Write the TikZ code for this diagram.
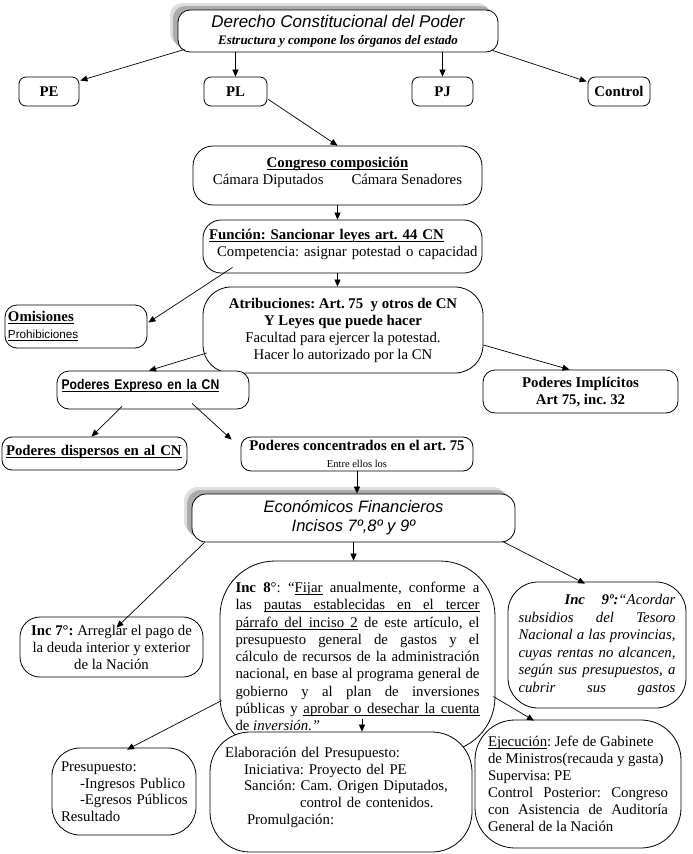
\documentclass[tikz,border=0pt]{standalone}
\usepackage{fontspec}
\setmainfont{Liberation Serif}
\newfontfamily\arialfont{Liberation Sans}
\newfontfamily\estrecha[FakeStretch=0.87]{Liberation Sans}
\usetikzlibrary{arrows.meta,shadows}

\frenchspacing
\newcommand{\texto}{\fontsize{14.8}{17}\selectfont}
\newsavebox{\cajasub}
\newcommand{\subr}[1]{\leavevmode\sbox{\cajasub}{#1}\rlap{\vrule height -1.5pt depth 2.3pt width \wd\cajasub}\usebox{\cajasub}}
\newcommand{\esp}{\leaders\hrule height -1.5pt depth 2.3pt\hskip\fontdimen2\font plus \fontdimen3\font minus \fontdimen4\font}

\begin{document}
\begin{tikzpicture}[x=1pt, y=-1pt,
  caja/.style={draw, line width=0.8pt, fill=white, inner sep=0pt, font=\texto,
    execute at begin node={\tolerance=10000\hbadness=10000\hyphenpenalty=10000}},
  sombra/.style={general shadow={fill=gray!25, shadow xshift=-8pt, shadow yshift=7pt},
                 general shadow={fill=gray!65, shadow xshift=-5pt, shadow yshift=4pt}},
  parrafo/.style={align=justify},
  arrow/.style={-{Triangle[length=7pt,width=6pt]}, line width=0.7pt},
]
\useasboundingbox (0,0) rectangle (693,854);

\node[caja, sombra, rounded corners=12pt, minimum width=320pt, minimum height=42pt, align=center] (titulo) at (338,31)
  {{\arialfont\itshape\fontsize{17}{17}\selectfont Derecho Constitucional del Poder}\\
   {\bfseries\itshape\fontsize{13}{17}\selectfont Estructura y compone los órganos del estado}};
\node[caja, rounded corners=7pt, minimum width=60pt, minimum height=29pt, font=\texto\bfseries] (pe) at (49,91.5) {PE};
\node[caja, rounded corners=7pt, minimum width=63pt, minimum height=29pt, font=\texto\bfseries] (pl) at (235.5,91.5) {PL};
\node[caja, rounded corners=7pt, minimum width=61pt, minimum height=29pt, font=\texto\bfseries] (pj) at (442.5,91.5) {PJ};
\node[caja, rounded corners=7pt, minimum width=62pt, minimum height=29pt, font=\texto\bfseries] (control) at (619,91.5) {Control};

\node[caja, rounded corners=20pt, minimum width=289pt, minimum height=59pt, align=center] (congreso) at (337.5,175.5)
  {\subr{\textbf{Congreso composición}}\\ Cámara Diputados\hspace{28pt}Cámara Senadores\\[-8pt]\mbox{}};
\node[caja, rounded corners=18pt, minimum width=279pt, minimum height=53pt, text width=277pt, align=left] (funcion) at (342.5,246.5)
  {\hspace*{5pt}\subr{\textbf{Función:\ Sancionar leyes art. 44 CN}}\\ \hspace*{13pt}Competencia: asignar potestad o capacidad\\[-9pt]\mbox{}};
\node[caja, rounded corners=28pt, minimum width=280pt, minimum height=86pt, align=center] (atrib) at (343,330)
  {\textbf{Atribuciones: Art. 75\ \ y otros de CN}\\ \textbf{Y Leyes que puede hacer}\\ Facultad para ejercer la potestad.\\ Hacer lo autorizado por la CN};
\node[caja, rounded corners=12pt, minimum width=142pt, minimum height=43pt, text width=136pt, align=left] (omis) at (76,326.5)
  {\subr{\textbf{Omisiones}}\\ {\arialfont\fontsize{11.7}{16}\selectfont\subr{Prohibiciones}}};

\node[caja, rounded corners=12pt, minimum width=192pt, minimum height=38pt, text width=183pt, align=left] (expreso) at (153,390)
  {{\estrecha\bfseries\fontsize{14}{17}\selectfont\subr{Poderes Expreso en la CN}}\\[-5pt]\mbox{}};
\node[caja, rounded corners=12pt, minimum width=195pt, minimum height=43pt, align=center, font=\texto\bfseries] (implicitos) at (580.5,391.5)
  {Poderes Implícitos\\ Art 75, inc. 32};
\node[caja, rounded corners=10pt, minimum width=185pt, minimum height=33pt, text width=177pt, align=left] (dispersos) at (94.5,453.5)
  {\subr{\textbf{Poderes dispersos en al CN}}\\[-10pt]\mbox{}};
\node[caja, rounded corners=10pt, minimum width=232pt, minimum height=34pt, align=center] (concent) at (357,454)
  {\textbf{Poderes concentrados en el art. 75}\\ {\fontsize{10.5}{16}\selectfont Entre ellos los}};

\node[caja, sombra, rounded corners=14pt, minimum width=323pt, minimum height=48pt, align=center, font=\arialfont\itshape\fontsize{16.5}{19}\selectfont] (econ) at (353.5,518)
  {Económicos Financieros\\ Incisos 7º,8º y 9º};

\node[caja, rounded corners=20pt, minimum width=183pt, minimum height=60pt, align=center] (inc7) at (111.5,647)
  {\textbf{Inc 7°:} Arreglar el pago de\\ la deuda interior y exterior\\ de la Nación};
\node[caja, rounded corners=55pt, minimum width=275pt, minimum height=191pt, text width=244pt, parrafo, font=\fontsize{14.8}{17.25}\selectfont] (inc8) at (357.5,656.5)
  {\textbf{Inc 8}°: “\subr{Fijar} anualmente, conforme a\linebreak
   las \subr{pautas}\esp\subr{establecidas}\esp\subr{en}\esp\subr{el}\esp\subr{tercer}\linebreak
   \subr{párrafo}\esp\subr{del}\esp\subr{inciso}\esp\subr{2} de este artículo, el\linebreak
   presupuesto general de gastos y el\linebreak
   cálculo de recursos de la administración\linebreak
   nacional, en base al programa general de\linebreak
   gobierno y al plan de inversiones\linebreak
   públicas y \subr{aprobar}\esp\subr{o}\esp\subr{desechar}\esp\subr{la}\esp\subr{cuenta}\linebreak
   de \textit{inversión.”}};
\node[caja, rounded corners=30pt, minimum width=178pt, minimum height=126pt, text width=157pt, parrafo, font=\itshape\fontsize{14.8}{17.6}\selectfont] (inc9) at (597,645)
  {\hspace*{46pt}\textbf{Inc 9º:}“Acordar\linebreak
   subsidios del Tesoro\linebreak
   Nacional a las provincias,\linebreak
   cuyas rentas no alcancen,\linebreak
   según sus presupuestos, a\linebreak
   \hbox to\linewidth{cubrir\hfil sus\hfil gastos}};

\node[caja, rounded corners=28pt, minimum width=144pt, minimum height=87pt, text width=138pt, align=left, font=\fontsize{14.8}{16.5}\selectfont] (presu) at (124,791.5)
  {\hspace*{6pt}Presupuesto:\\ \hspace*{25pt}-Ingresos Publico\\ \hspace*{25pt}-Egresos Públicos\\ \hspace*{6pt}Resultado};
\node[caja, rounded corners=40pt, minimum width=262pt, minimum height=120pt, text width=232pt, align=left, font=\fontsize{14.8}{16.75}\selectfont] (elab) at (341,792)
  {Elaboración del Presupuesto:\\ \hspace*{19pt}Iniciativa: Proyecto del PE\\ \hspace*{19pt}Sanción: Cam. Origen Diputados,\\
   \hspace*{75pt}control de contenidos.\\ \hspace*{22pt}Promulgación:\\[-4pt]\mbox{}};
\node[caja, rounded corners=40pt, minimum width=206pt, minimum height=128pt, text width=180pt, parrafo] (ejec) at (578,784)
  {\subr{Ejecución}: Jefe de Gabinete\\ de Ministros(recauda y gasta)\\ Supervisa: PE\\
   Control Posterior: Congreso\linebreak con Asistencia de Auditoría\linebreak General de la Nación};

\draw[arrow] ([xshift=7pt,yshift=3pt]titulo.south west) -- ([xshift=1pt,yshift=11pt]pe.east);
\draw[arrow] (titulo.south -| pl.north) -- (pl.north);
\draw[arrow] (titulo.south -| pj.north) -- (pj.north);
\draw[arrow] ([xshift=-6pt,yshift=2pt]titulo.south east) -- ([xshift=-1pt,yshift=10pt]control.west);
\draw[arrow] ([xshift=1pt,yshift=-8pt]pl.east) -- (congreso.north);
\draw[arrow] (congreso.south) -- (congreso.south |- funcion.north);
\draw[arrow] (funcion.south -| congreso.south) -- (atrib.north -| congreso.south);
\draw[arrow] ([xshift=-110pt,yshift=6pt]funcion.south) -- ([xshift=1pt,yshift=4pt]omis.east);
\draw[arrow] ([xshift=4pt,yshift=-23pt]atrib.west) -- ([xshift=-4pt]expreso.north);
\draw[arrow] ([yshift=-15pt]atrib.east) -- ([xshift=-11pt]implicitos.north);
\draw[arrow] ([xshift=-31pt,yshift=3pt]expreso.south) -- ([xshift=-3pt]dispersos.north);
\draw[arrow] ([xshift=39pt,yshift=6pt]expreso.south) -- ([xshift=-9pt,yshift=-3pt]concent.north west);
\draw[arrow] (concent.south) -- (concent.south |- econ.north);
\draw[arrow] ([xshift=13pt]econ.south west) -- ([xshift=5pt,yshift=-11pt]inc7.north);
\draw[arrow] (econ.south) -- (econ.south |- inc8.north);
\draw[arrow] ([xshift=-13pt,yshift=1pt]econ.south east) -- ([xshift=-12pt,yshift=-2pt]inc9.north);
\draw[arrow] ([xshift=2pt,yshift=-44pt]inc8.west) -- ([xshift=3pt,yshift=-2pt]presu.north);
\draw[arrow] ([xshift=4.5pt,yshift=33pt]inc8.south) -- ([xshift=21pt]elab.north);
\draw[arrow] ([xshift=-2pt,yshift=-40pt]inc8.east) -- ([xshift=-44pt,yshift=-1pt]ejec.north);
\end{tikzpicture}
\end{document}
